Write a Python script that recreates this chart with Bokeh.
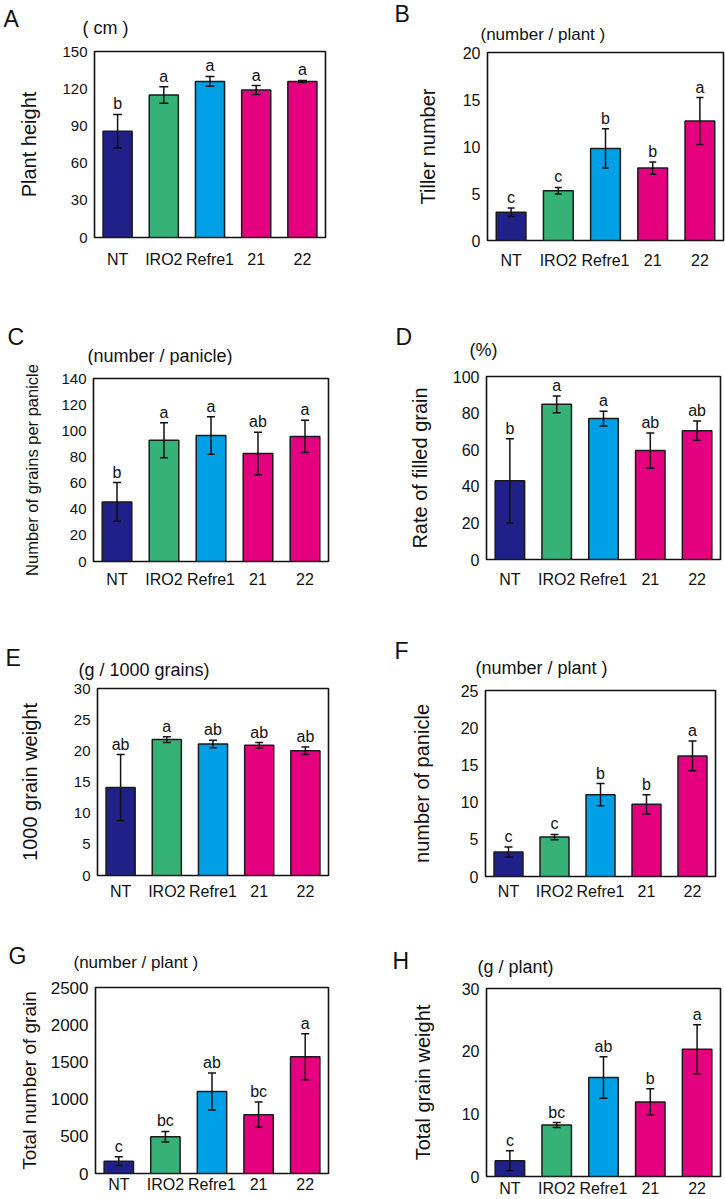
from bokeh.plotting import figure
from bokeh.models import (ColumnDataSource, FactorRange, Range1d, FixedTicker,
                          Whisker, TeeHead, Label)
from bokeh.layouts import column, row
from bokeh.embed import file_html
from bokeh.resources import INLINE
from bokeh.core.properties import value

# ---------------- data ----------------
categories = ["NT", "IRO2", "Refre1", "21", "22"]
bar_colors = ["#1f2189", "#36b276", "#00a0e6", "#e4007f", "#e4007f"]

plant_height = [85.7, 114.9, 125.9, 118.9, 125.9]
plant_height_err = [13.5, 6.7, 4.0, 3.6, 0.8]
plant_height_sig = ["b", "a", "a", "a", "a"]

tiller_number = [3.0, 5.3, 9.8, 7.7, 12.7]
tiller_number_err = [0.46, 0.34, 2.1, 0.65, 2.5]
tiller_number_sig = ["c", "c", "b", "b", "a"]

grains_per_panicle = [45.6, 92.7, 96.4, 82.6, 95.7]
grains_per_panicle_err = [14.8, 13.4, 14.4, 16.3, 12.4]
grains_per_panicle_sig = ["b", "a", "a", "ab", "a"]

filled_rate = [43.0, 84.8, 77.0, 59.5, 70.4]
filled_rate_err = [23.0, 4.6, 4.0, 9.6, 5.3]
filled_rate_sig = ["b", "a", "a", "ab", "ab"]

grain_weight_1000 = [14.1, 21.8, 21.1, 20.9, 20.0]
grain_weight_1000_err = [5.3, 0.45, 0.6, 0.43, 0.6]
grain_weight_1000_sig = ["ab", "a", "ab", "ab", "ab"]

panicle_number = [3.3, 5.3, 11.0, 9.7, 16.2]
panicle_number_err = [0.67, 0.35, 1.5, 1.3, 2.0]
panicle_number_sig = ["c", "c", "b", "b", "a"]

total_grains = [166, 495, 1102, 791, 1569]
total_grains_err = [60, 70, 248, 170, 310]
total_grains_sig = ["c", "bc", "ab", "bc", "a"]

total_weight = [2.5, 8.2, 15.8, 11.9, 20.3]
total_weight_err = [1.6, 0.4, 3.3, 2.1, 3.9]
total_weight_sig = ["c", "bc", "ab", "b", "a"]

y_ticks_A = [0, 30, 60, 90, 120, 150]
y_ticks_B = [0, 5, 10, 15, 20]
y_ticks_C = [0, 20, 40, 60, 80, 100, 120, 140]
y_ticks_D = [0, 20, 40, 60, 80, 100]
y_ticks_E = [0, 5, 10, 15, 20, 25, 30]
y_ticks_F = [0, 5, 10, 15, 20, 25]
y_ticks_G = [0, 500, 1000, 1500, 2000, 2500]
y_ticks_H = [0, 10, 20, 30]

FONT = "Liberation Sans"
INK = "#111111"


def make_panel(w, h, left, top, fw, fh, ymax, ticks, vals, errs, sig,
               ylabel, ylab_size, ylab_standoff, tick_size, xlab_standoff,
               head=8):
    right = w - left - fw
    bottom = h - top - fh
    p = figure(width=w, height=h, x_range=FactorRange(*categories),
               y_range=Range1d(0, ymax), output_backend="svg",
               toolbar_location=None, title=None,
               min_border_left=left, min_border_right=right,
               min_border_top=top, min_border_bottom=bottom)
    p.background_fill_color = "white"
    p.border_fill_color = "white"
    p.outline_line_color = INK
    p.outline_line_width = 1.6
    p.grid.visible = False
    p.x_range.range_padding = 0

    src = ColumnDataSource(dict(
        x=categories, top=vals, color=bar_colors,
        upper=[v + e for v, e in zip(vals, errs)],
        lower=[v - e for v, e in zip(vals, errs)],
        sig=sig))
    p.vbar(x="x", top="top", width=0.63, source=src, fill_color="color",
           line_color="#1a1a1a", line_width=1.5)
    wk = Whisker(base="x", upper="upper", lower="lower", source=src,
                 line_color=INK, line_width=1.5, level="annotation",
                 upper_head=TeeHead(size=head, line_color=INK, line_width=1.5),
                 lower_head=TeeHead(size=head, line_color=INK, line_width=1.5))
    p.add_layout(wk)
    p.text(x="x", y="upper", text="sig", source=src, text_align="center",
           text_baseline="bottom", y_offset=-2, text_color=INK,
           text_font=value(FONT), text_font_size="16px")

    for ax in (p.xaxis[0], p.yaxis[0]):
        ax.axis_line_color = None
        ax.major_tick_line_color = None
        ax.minor_tick_line_color = None
        ax.major_tick_out = 0
        ax.major_tick_in = 0
        ax.major_label_text_font = FONT
        ax.major_label_text_color = INK
    p.xaxis.major_label_text_font_size = "16px"
    p.xaxis.major_label_standoff = xlab_standoff
    p.yaxis.ticker = FixedTicker(ticks=ticks)
    p.yaxis.major_label_text_font_size = f"{tick_size}px"
    p.yaxis.major_label_standoff = 7
    p.yaxis.axis_label = ylabel
    p.yaxis.axis_label_text_font = FONT
    p.yaxis.axis_label_text_font_style = "normal"
    p.yaxis.axis_label_text_font_size = f"{ylab_size}px"
    p.yaxis.axis_label_text_color = INK
    p.yaxis.axis_label_standoff = ylab_standoff
    return p


def make_header(w, h, top_y, fig_x, letter, letter_xy, unit, unit_xy, unit_size):
    """Strip above a panel that carries the panel letter and the unit text.
    Positions are page pixels (vertical centre of the text), converted to
    strip coordinates."""
    hd = figure(width=w, height=h, x_axis_type=None, y_axis_type=None,
                x_range=Range1d(0, 1), y_range=Range1d(0, 1),
                output_backend="svg", toolbar_location=None, title=None,
                min_border=0)
    hd.outline_line_color = None
    hd.grid.visible = False
    hd.background_fill_color = "white"
    hd.border_fill_color = "white"
    bottom_y = top_y + h
    lx, ly = letter_xy
    hd.add_layout(Label(x=lx - fig_x, y=bottom_y - ly, x_units="screen",
                        y_units="screen", text=letter, text_font=FONT,
                        text_font_size="23px", text_color=INK,
                        text_baseline="middle", text_align="left"))
    ux, uy = unit_xy
    hd.add_layout(Label(x=ux - fig_x, y=bottom_y - uy, x_units="screen",
                        y_units="screen", text=unit, text_font=FONT,
                        text_font_size=f"{unit_size}px", text_color=INK,
                        text_baseline="middle", text_align="left"))
    return hd


LX, LW = 0, 362
RX, RW = 362, 363

# ---- row 1 (page y 0 .. 290) ----
hA = make_header(LW, 44, 0, LX, "A", (3, 18), "( cm )", (82, 27), 18)
hB = make_header(RW, 44, 0, RX, "B", (394, 13), "(number / plant )", (480, 34), 17)
pA = make_panel(LW, 246, 94, 7, 231, 186, 150, y_ticks_A,
                plant_height, plant_height_err, plant_height_sig,
                "Plant height", 20, 19, 15, 13, head=9)
pB = make_panel(RW, 246, 125, 8, 236, 188, 20, y_ticks_B,
                tiller_number, tiller_number_err, tiller_number_sig,
                "Tiller number", 20, 21, 16, 11, head=7)

# ---- row 2 (page y 290 .. 590) ----
hC = make_header(LW, 75, 290, LX, "C", (7, 336), "(number / panicle)", (87, 355), 18)
hD = make_header(RW, 75, 290, RX, "D", (395, 336), "(%)", (469, 349), 18)
pC = make_panel(LW, 225, 93, 13, 235, 186, 140, y_ticks_C,
                grains_per_panicle, grains_per_panicle_err, grains_per_panicle_sig,
                "Number of grains per panicle", 16.5, 17, 15, 9)
pD = make_panel(RW, 225, 124, 11, 234, 187, 100, y_ticks_D,
                filled_rate, filled_rate_err, filled_rate_sig,
                "Rate of filled grain", 20, 19, 16, 11)

# ---- row 3 (page y 590 .. 902) ----
hE = make_header(LW, 90, 590, LX, "E", (5, 657), "(g / 1000 grains)", (78, 669), 18)
hF = make_header(RW, 90, 590, RX, "F", (394, 650), "(number / plant )", (475, 667), 18)
pE = make_panel(LW, 222, 97, 8, 231, 188, 30, y_ticks_E,
                grain_weight_1000, grain_weight_1000_err, grain_weight_1000_sig,
                "1000 grain weight", 20, 30, 15, 7)
pF = make_panel(RW, 222, 123, 10, 230, 187, 25, y_ticks_F,
                panicle_number, panicle_number_err, panicle_number_sig,
                "number of panicle", 20, 25, 16, 6)

# ---- row 4 (page y 902 .. 1199) ----
hG = make_header(LW, 76, 902, LX, "G", (8, 955), "(number / plant )", (73, 962), 17)
hH = make_header(RW, 76, 902, RX, "H", (392, 960), "(g / plant)", (477, 966), 18)
pG = make_panel(LW, 221, 95, 9, 233, 186, 2500, y_ticks_G,
                total_grains, total_grains_err, total_grains_sig,
                "Total number of grain", 19, 8, 17, 2)
pH = make_panel(RW, 221, 124, 10, 234, 189, 30, y_ticks_H,
                total_weight, total_weight_err, total_weight_sig,
                "Total grain weight", 20, 25, 16, 3)

layout = column(row(hA, hB), row(column(pA), column(pB)),
                row(hC, hD), row(column(pC), column(pD)),
                row(hE, hF), row(column(pE), column(pF)),
                row(hG, hH), row(column(pG), column(pH)))
open("out.html", "w").write(file_html(layout, INLINE))
